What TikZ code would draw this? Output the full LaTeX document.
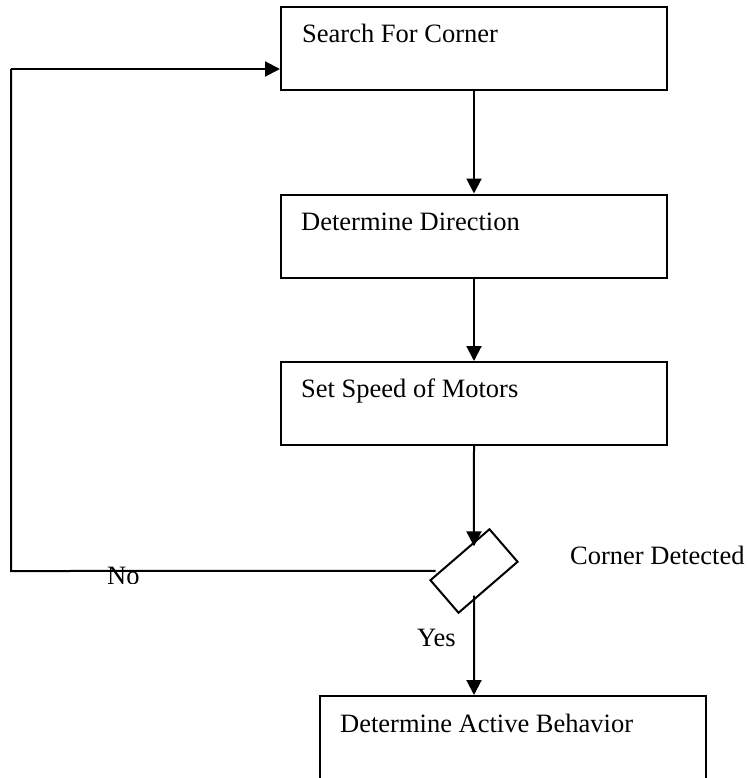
\documentclass[tikz,border=0pt]{standalone}
\usepackage{fontspec}
\setmainfont{Liberation Serif}
\usetikzlibrary{arrows.meta}

\tikzset{
  procbox/.style={draw, line width=2pt, rectangle, inner sep=0pt,
                  minimum width=386pt, minimum height=83pt},
  decbox/.style={draw, line width=2pt, rectangle, inner sep=0pt,
                 minimum width=78pt, minimum height=43pt, rotate=40.8},
  lbl/.style={inner sep=0pt, anchor=base west,
              font=\fontsize{26.5}{30}\selectfont},
  flow/.style={line width=2pt,
               -{Triangle[length=15pt,width=15pt]}},
  plain/.style={line width=2pt}
}

\begin{document}
\begin{tikzpicture}[x=1pt, y=-1pt]
  \clip (0,0) rectangle (747,778);
  \fill[white] (0,0) rectangle (747,778);

  % process boxes
  \node[procbox] (search)  at (474,48.5)  {};
  \node[procbox] (dir)     at (474,236)   {};
  \node[procbox] (speed)   at (474,403.5) {};
  \node[procbox] (active)  at (512.5,737.5) {};

  % decision symbol
  \node[decbox] (dec) at (474,571) {};

  % box captions
  \node[lbl] (tsearch) at (302,42.7) {Search For Corner};
  \node[lbl] (tdir)    at (301,230)  {Determine Direction};
  \node[lbl] (tspeed)  at (301,397)  {Set Speed of Motors};
  \node[lbl] (tactive) at (340,732)  {Determine Active Behavior};
  \node[lbl] (tdec)    at (570,564)  {Corner Detected};

  % main flow
  \draw[flow] (search) -- (dir);
  \draw[flow] (dir) -- (speed);
  \draw[flow, shorten >=-5pt] (speed) -- (dec);
  \draw[flow, shorten <=-5pt] (dec) -- (dec |- active.north);

  % "No" branch back to the search step
  \coordinate (nodown) at (11,571);
  \coordinate (noup)   at (11,69);
  \draw[plain, shorten <=4pt] (dec) -- (nodown) -- (noup);
  \draw[flow] (noup) -- (noup -| search.west);

  % branch labels
  \begin{scope}
    \clip (0,0) rectangle (747,583.5);
    \node[lbl] (tno) at (107,584.5) {No};
  \end{scope}
  \begin{scope}
    \clip (0,0) rectangle (747,646.8);
    \node[lbl] (tyes) at (417,646.5) {Yes};
  \end{scope}
\end{tikzpicture}
\end{document}
